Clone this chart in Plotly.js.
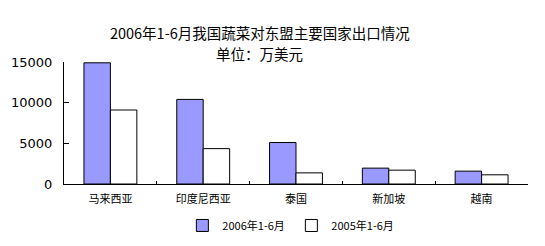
<!DOCTYPE html>
<html><head><meta charset="utf-8">
<script src="https://cdn.plot.ly/plotly-3.0.1.min.js"></script>
<style>html,body{margin:0;padding:0;background:#fff;}#chart{width:545px;height:246px;}</style>
</head><body><div id="chart"></div>
<script>
const categories = ["马来西亚", "印度尼西亚", "泰国", "新加坡", "越南"];
const series2006 = [14900, 10400, 5100, 1950, 1580];
const series2005 = [9100, 4350, 1370, 1700, 1130];
const seriesNames = ["2006年1-6月", "2005年1-6月"];
const yTicks = [0, 5000, 10000, 15000];
const titleLine1 = "2006年1-6月我国蔬菜对东盟主要国家出口情况";
const titleLine2 = "单位：万美元";

const font = "'DejaVu Sans', 'Noto Sans CJK SC', sans-serif";
const cjk = "'Noto Sans CJK SC', sans-serif";
const traces = [
  {type: "bar", x: categories, y: series2006, name: seriesNames[0],
   marker: {color: "#9999FF", line: {color: "#000", width: 1}}},
  {type: "bar", x: categories, y: series2005, name: seriesNames[1],
   marker: {color: "#FFFFFF", line: {color: "#000", width: 1}}}
];
const layout = {
  width: 545, height: 246,
  margin: {l: 64, r: 17, t: 62, b: 62, autoexpand: false},
  paper_bgcolor: "#fff", plot_bgcolor: "#fff",
  font: {family: font, color: "#000"},
  title: {text: titleLine1, font: {size: 14.5, family: cjk},
          x: 0.422, xref: "paper", xanchor: "center", y: 1 - 34 / 246, yref: "container", yanchor: "middle"},
  annotations: [
    {text: titleLine2, xref: "paper", yref: "paper", x: 0.422, y: (184 - 54) / 122,
     xanchor: "center", yanchor: "middle", showarrow: false, font: {size: 14.5, family: cjk}}
  ],
  barmode: "group", bargap: 0.43, bargroupgap: 0,
  showlegend: true,
  legend: {orientation: "h", x: 0.49, xanchor: "center", y: -0.34, yanchor: "middle",
           font: {size: 11, family: cjk}, itemwidth: 30,
           entrywidth: 64, entrywidthmode: "pixels", tracegroupgap: 0},
  xaxis: {type: "category", showline: true, linecolor: "#000", linewidth: 1,
          ticks: "inside", ticklen: 3, tickcolor: "#000", tickson: "boundaries",
          tickfont: {size: 11, family: cjk}, ticklabelstandoff: 5,
          showgrid: false, zeroline: false, fixedrange: true},
  yaxis: {range: [0, 15000], tickvals: yTicks, ticktext: yTicks.map(String),
          showline: true, linecolor: "#000", linewidth: 1,
          ticks: "inside", ticklen: 5, tickcolor: "#000",
          tickfont: {size: 13}, ticklabelstandoff: 8,
          showgrid: false, zeroline: false, fixedrange: true}
};
Plotly.newPlot("chart", traces, layout, {displayModeBar: false, staticPlot: true});
</script></body></html>
